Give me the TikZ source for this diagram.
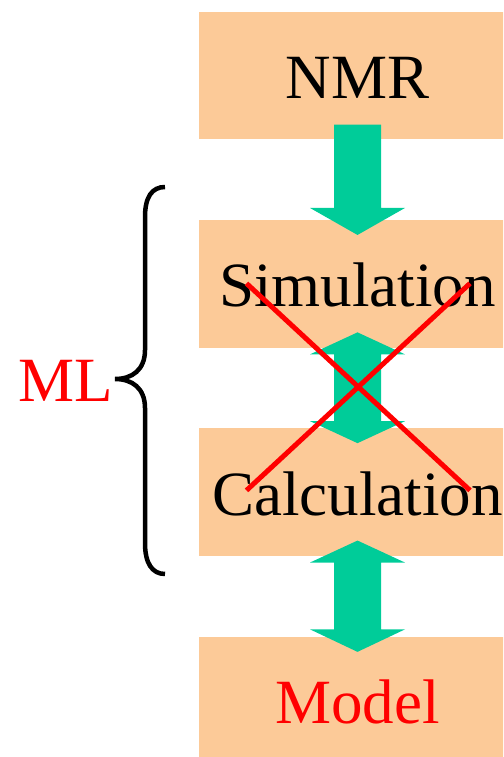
\documentclass[tikz,border=0pt]{standalone}
\usepackage{fontspec}
\setmainfont{Liberation Serif}
\usepackage{tikz}
\usetikzlibrary{positioning,calc}
\definecolor{mlpeach}{HTML}{FCCA98}
\definecolor{mlgreen}{HTML}{00CC99}
\definecolor{mlred}{HTML}{FF0000}

\begin{document}
\begin{tikzpicture}[x=1pt,y=-1pt, node distance=80.3pt, every node/.style={font=\fontsize{63}{70}\selectfont,inner sep=0pt}]
\tikzset{stage/.style={fill=mlpeach,minimum width=318pt,minimum height=127.5pt,text height=46pt,text depth=0pt}, flow/.style={fill=mlgreen}, cross/.style={draw=mlred,line width=5pt}}
\useasboundingbox (0,0) rectangle (503,757);
\clip (0,0) rectangle (503,757);
\node[stage] (nmr) at (357.5,75.7) {NMR};
\node[stage,below=of nmr] (sim) {Simulation};
\node[stage,below=of sim] (calc) {Calculation};
\node[stage,below=of calc,text=mlred] (model) {Model};
% block arrows
\fill[flow] let \p1=(nmr.south), \p2=(sim.north) in
  (\x1-23.5pt,\y1+15pt) -- (\x1+23.5pt,\y1+15pt) -- (\x1+23.5pt,\y2+12pt) -- (\x1+47.5pt,\y2+12pt)
  -- (\x1,\y2-15pt) -- (\x1-47.5pt,\y2+12pt) -- (\x1-23.5pt,\y2+12pt) -- cycle;
\fill[flow] let \p1=(sim.south), \p2=(calc.north) in
  (\x1,\y1+15.5pt) -- (\x1+47.5pt,\y1-6.5pt) -- (\x1+23.5pt,\y1-6.5pt) -- (\x1+23.5pt,\y2+7pt)
  -- (\x1+47.5pt,\y2+7pt) -- (\x1,\y2-15pt) -- (\x1-47.5pt,\y2+7pt) -- (\x1-23.5pt,\y2+7pt)
  -- (\x1-23.5pt,\y1-6.5pt) -- (\x1-47.5pt,\y1-6.5pt) -- cycle;
\fill[flow] let \p1=(calc.south), \p2=(model.north) in
  (\x1,\y1+15.5pt) -- (\x1+47.5pt,\y1-6.5pt) -- (\x1+23.5pt,\y1-6.5pt) -- (\x1+23.5pt,\y2+7pt)
  -- (\x1+47.5pt,\y2+7pt) -- (\x1,\y2-15.5pt) -- (\x1-47.5pt,\y2+7pt) -- (\x1-23.5pt,\y2+7pt)
  -- (\x1-23.5pt,\y1-6.5pt) -- (\x1-47.5pt,\y1-6.5pt) -- cycle;
% crossed out
\draw[cross] ($(sim.center)+(-111,-0.5)$) -- ($(calc.center)+(112.5,-1.7)$);
\draw[cross] ($(sim.center)+(112.5,-0.5)$) -- ($(calc.center)+(-111,-1.7)$);
% brace
\coordinate (tip) at (115,379);
\draw[line width=4.5pt] (165,187) .. controls (152,187) and (145,197) .. (145,217) -- (145,350)
  .. controls (145,370) and (132,379) .. (tip) .. controls (132,379) and (145,388) .. (145,408)
  -- (145,543) .. controls (145,563) and (152,574) .. (165,574);
\node[left=2pt of tip,text=mlred,yshift=-2pt] (ml) {ML};
\end{tikzpicture}
\end{document}
